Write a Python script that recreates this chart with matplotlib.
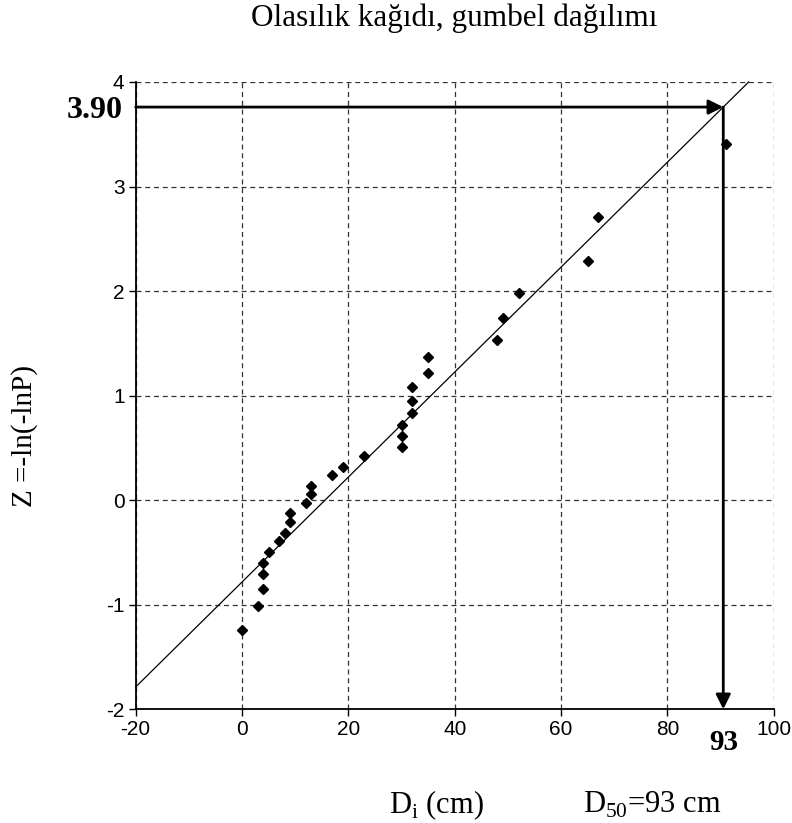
import matplotlib
matplotlib.use('Agg')
import matplotlib.pyplot as plt
import numpy as np

# 관측값 (D_i, Z)
d_values = [0, 3, 4, 4, 4, 5, 7, 8, 9, 9, 12, 13, 13, 17, 19, 23,
            30, 30, 30, 32, 32, 32, 35, 35, 48, 49, 52, 65, 67, 91]
z_values = [-1.24, -1.01, -0.85, -0.71, -0.60, -0.50, -0.39, -0.31, -0.21, -0.12,
            -0.03, 0.06, 0.14, 0.24, 0.32, 0.42,
            0.51, 0.61, 0.72, 0.83, 0.95, 1.08, 1.22, 1.37,
            1.53, 1.74, 1.98, 2.29, 2.71, 3.41]

# 추세선 (직선)
fit_slope = 0.0502
fit_intercept = -0.783

# 화살표 대상 지점
arrow_x = 90.5
arrow_z = 3.76

x_ticks = [-20, 0, 20, 40, 60, 80, 100]
y_ticks = [-2, -1, 0, 1, 2, 3, 4]

serif = ['Liberation Serif', 'DejaVu Serif']
sans = ['Liberation Sans', 'DejaVu Sans']

plt.rcParams['mathtext.fontset'] = 'custom'
plt.rcParams['mathtext.rm'] = 'Liberation Serif'

fig = plt.figure(figsize=(7.92, 8.23), dpi=100)
ax = fig.add_axes([0.1713, 0.1382, 0.8057, 0.7622])

ax.set_xlim(-20, 100)
ax.set_ylim(-2, 4)
ax.set_xticks(x_ticks)
ax.set_yticks(y_ticks)
ax.set_xticklabels([str(t) for t in x_ticks], family=sans, fontsize=15)
ax.set_yticklabels([str(t) for t in y_ticks], family=sans, fontsize=15)
ax.tick_params(direction='out', length=5, width=1, colors='black', pad=3)

ax.grid(True, color='#333333', linestyle=(0, (4, 3)), linewidth=0.9)
ax.set_axisbelow(True)
for side in ['top', 'right']:
    ax.spines[side].set_visible(False)
for side in ['left', 'bottom']:
    ax.spines[side].set_linewidth(1.3)
    ax.spines[side].set_zorder(5)

# 추세선
x_end = (4 - fit_intercept) / fit_slope
line_x = np.array([-20, x_end])
ax.plot(line_x, fit_slope * line_x + fit_intercept, color='black', linewidth=0.9, clip_on=False)

# 데이터 점
ax.plot(d_values, z_values, linestyle='none', marker='D', markersize=5,
        color='black', zorder=4)

# 화살표
arrow_style = dict(arrowstyle='-|>', lw=2, color='black', mutation_scale=22,
                   shrinkA=0, shrinkB=0)
ax.annotate('', xy=(arrow_x, arrow_z), xytext=(-20, arrow_z), arrowprops=arrow_style)
ax.annotate('', xy=(arrow_x, -2), xytext=(arrow_x, arrow_z), arrowprops=arrow_style)

ax.text(-22.4, arrow_z - 0.03, '3.90', family=serif, fontsize=23, fontweight='bold',
        ha='right', va='center')
ax.text(arrow_x, -2.32, '93', family=serif, fontsize=21, fontweight='bold',
        ha='center', va='center')

fig.text(0.573, 0.978, 'Olasılık kağıdı, gumbel dağılımı', family=serif,
         fontsize=22.5, ha='center', va='center')
fig.text(0.031, 0.47, 'Z =-ln(-lnP)', family=serif, fontsize=21,
         rotation=90, ha='center', va='center')
fig.text(0.551, 0.022, r'D$_\mathregular{i}$ (cm)', family=serif, fontsize=22,
         ha='center', va='center')
fig.text(0.823, 0.022, r'D$_\mathregular{50}$=93 cm', family=serif, fontsize=22,
         ha='center', va='center')

fig.savefig('out.png', dpi=100)
